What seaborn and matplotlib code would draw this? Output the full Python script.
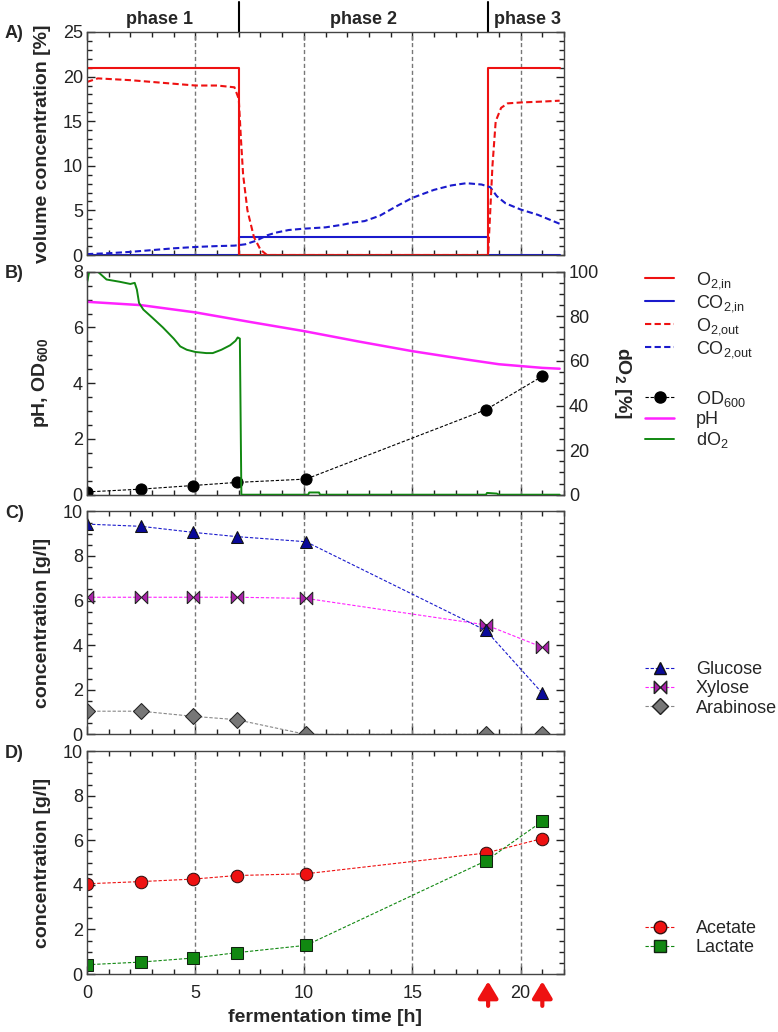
import matplotlib
matplotlib.use('Agg')
import seaborn as sns
import matplotlib.pyplot as plt
from matplotlib.lines import Line2D
from matplotlib.ticker import MultipleLocator

# ---- panel A: off-gas / inlet gas (volume %)
o2_in_t = [0, 7, 7, 18.5, 18.5, 21.8]
o2_in = [21, 21, 0, 0, 21, 21]
co2_in_t = [0, 7, 7, 18.5, 18.5, 21.8]
co2_in = [0, 0, 2, 2, 0, 0]
o2_out_t = [0, 0.5, 2, 4, 5, 6, 6.8, 7.0, 7.1, 7.2, 7.4, 7.7, 8.0, 8.3, 18.5,
            18.6, 18.7, 18.85, 19.1, 19.4, 20, 21, 21.8]
o2_out = [19.4, 19.8, 19.6, 19.2, 19.0, 19.0, 18.8, 17.5, 13, 9, 5, 2, 0.6, 0, 0,
          5, 10, 15, 16.5, 17.0, 17.1, 17.2, 17.3]
co2_out_t = [0, 1, 2, 3, 4, 5, 6, 6.8, 7.3, 7.8, 8.3, 8.7, 9.3, 10, 11, 11.8, 12.3,
             12.8, 13.5, 14.3, 15, 16, 16.8, 17.5, 18.2, 18.6, 18.9, 19.3, 20, 20.8, 21.8]
co2_out = [0.1, 0.2, 0.35, 0.55, 0.75, 0.9, 1.0, 1.05, 1.2, 1.6, 2.2, 2.5, 2.8, 2.95,
           3.1, 3.4, 3.65, 3.8, 4.4, 5.5, 6.4, 7.3, 7.8, 8.05, 7.9, 7.6, 6.6, 5.8,
           5.1, 4.5, 3.5]

# ---- panel B: OD600, pH, dO2
sample_t = [0, 2.5, 4.9, 6.9, 10.1, 18.4, 21.0]
od600 = [0.1, 0.2, 0.33, 0.44, 0.56, 3.05, 4.25]
ph_t = [0, 2.5, 5, 7.5, 10, 12.5, 15, 17.5, 19, 21, 21.8]
ph = [6.92, 6.8, 6.54, 6.2, 5.87, 5.5, 5.15, 4.85, 4.68, 4.55, 4.52]
do2_t = [0, 0.1, 0.5, 0.9, 1.5, 2.0, 2.2, 2.3, 2.4, 2.6, 3.0, 3.5, 4.0, 4.3, 4.6,
         5.0, 5.5, 5.8, 6.2, 6.6, 6.85, 6.95, 7.05, 7.12, 10.2, 10.25, 10.7, 10.75,
         18.4, 18.45, 18.9, 19.0, 21.8]
do2 = [95, 100, 100, 96.5, 95.5, 94.5, 95, 92, 86, 83, 79.5, 75, 70, 66.5, 65,
       64, 63.5, 63.5, 65, 67, 69, 70.5, 70, 0, 0, 1, 1, 0,
       0, 0.8, 0.5, 0, 0]

# ---- panel C: sugars (g/l)
glucose = [9.43, 9.33, 9.06, 8.87, 8.64, 4.66, 1.85]
xylose = [6.15, 6.15, 6.15, 6.15, 6.1, 4.91, 3.91]
arabinose = [1.04, 1.04, 0.81, 0.66, 0.0, 0.0, 0.0]

# ---- panel D: products (g/l)
acetate = [4.05, 4.15, 4.26, 4.42, 4.5, 5.43, 6.08]
lactate = [0.42, 0.54, 0.72, 0.96, 1.29, 5.08, 6.85]

phase_bounds = [7, 18.5]
phase_names = ['phase 1', 'phase 2', 'phase 3']
phase_centers = [3.35, 12.75, 20.3]
sample_lines = [5, 10, 15, 20]
harvest_t = [18.5, 21.0]

sns.set_style('ticks')
plt.rcParams['font.family'] = ['Liberation Sans', 'DejaVu Sans']
plt.rcParams['mathtext.fontset'] = 'custom'
plt.rcParams['mathtext.rm'] = 'Liberation Sans'
plt.rcParams['mathtext.bf'] = 'Liberation Sans:bold'

RED = '#ee1111'
BLUE = '#1a1acc'
MAG = '#ff22ff'
GREEN = '#118811'
DASH = (0, (3, 1.6))
bowtie = [(-1, -1), (-1, 1), (0, 0), (1, 1), (1, -1), (0, 0), (-1, -1)]

W, H = 778, 1032
fig = plt.figure(figsize=(W / 100, H / 100), dpi=100)
left, right = 87, 564
top0, ph_h, gap = 32, 223, 16.7
axes = []
for i in range(4):
    t = top0 + i * (ph_h + gap)
    axes.append(fig.add_axes([left / W, 1 - (t + ph_h) / H, (right - left) / W, ph_h / H]))
axA, axB, axC, axD = axes


def style(ax, ymax, ymaj, ymin, right_ticks=True):
    ax.set_xlim(0, 22)
    ax.set_ylim(0, ymax)
    ax.xaxis.set_major_locator(MultipleLocator(5))
    ax.xaxis.set_minor_locator(MultipleLocator(1))
    ax.yaxis.set_major_locator(MultipleLocator(ymaj))
    ax.yaxis.set_minor_locator(MultipleLocator(ymin))
    ax.tick_params(which='both', direction='in', top=True, right=right_ticks,
                   labelsize=13, colors='#222222', pad=3)
    ax.tick_params(axis='x', pad=8)
    ax.tick_params(which='major', length=6, width=1)
    ax.tick_params(which='minor', length=3.5, width=1)
    for s in ax.spines.values():
        s.set_color('#444444')
        s.set_linewidth(1)
    for x in sample_lines:
        ax.axvline(x, color='#777777', ls=(0, (3, 2)), lw=1, zorder=1)
    ax.set_xlabel('')


def legend(ax, handles, labels, y):
    ax.legend(handles, labels, loc='lower left', bbox_to_anchor=(1.17, y),
              frameon=False, fontsize=13, handlelength=1.6, handletextpad=1.2,
              labelspacing=0.12, borderpad=0, borderaxespad=0)


# ---- A
sns.lineplot(x=co2_in_t, y=co2_in, ax=axA, color=BLUE, lw=1.5, estimator=None, sort=False)
sns.lineplot(x=o2_in_t, y=o2_in, ax=axA, color=RED, lw=1.5, estimator=None, sort=False)
sns.lineplot(x=co2_out_t, y=co2_out, ax=axA, color=BLUE, lw=1.5, linestyle=DASH,
             estimator=None, sort=False)
sns.lineplot(x=o2_out_t, y=o2_out, ax=axA, color=RED, lw=1.5, linestyle=DASH,
             estimator=None, sort=False)
style(axA, 25, 5, 1)
axA.set_xticklabels([])
axA.set_ylabel('volume concentration [%]', fontsize=14, fontweight='bold')
hA = [Line2D([], [], color=RED, lw=1.5), Line2D([], [], color=BLUE, lw=1.5),
      Line2D([], [], color=RED, lw=1.5, ls=DASH), Line2D([], [], color=BLUE, lw=1.5, ls=DASH)]
legend(axA, hA, [r'O$_{2{,}\mathrm{in}}$', r'CO$_{2{,}\mathrm{in}}$',
                 r'O$_{2{,}\mathrm{out}}$', r'CO$_{2{,}\mathrm{out}}$'], -0.47)

for b in phase_bounds:
    axA.axvline(b, ymin=1, ymax=1 + 30 / ph_h, color='k', lw=1.5, clip_on=False)
for name, c in zip(phase_names, phase_centers):
    axA.text(c, 1 + 12 / ph_h, name, transform=axA.get_xaxis_transform(),
             ha='center', va='center', fontsize=13, fontweight='bold')

# ---- B
sns.lineplot(x=sample_t, y=od600, ax=axB, color='k', lw=0.8, linestyle=DASH,
             marker='o', markersize=8, markerfacecolor='k', markeredgecolor='k',
             estimator=None, sort=False)
sns.lineplot(x=ph_t, y=ph, ax=axB, color=MAG, lw=1.8, estimator=None, sort=False)
style(axB, 8, 2, 0.5, right_ticks=False)
axB.set_xticklabels([])
axB.set_ylabel(r'pH, OD$_\mathbf{600}$', fontsize=14, fontweight='bold')
axB2 = axB.twinx()
sns.lineplot(x=do2_t, y=do2, ax=axB2, color=GREEN, lw=1.4, estimator=None, sort=False)
axB2.set_ylim(0, 100)
axB2.set_xlim(0, 22)
axB2.yaxis.set_major_locator(MultipleLocator(20))
axB2.yaxis.set_minor_locator(MultipleLocator(5))
axB2.tick_params(which='both', direction='in', labelsize=13, colors='#222222')
axB2.tick_params(which='major', length=6, width=1)
axB2.tick_params(which='minor', length=3.5, width=1)
for s in axB2.spines.values():
    s.set_color('#444444')
axB2.set_ylabel(r'dO$_\mathbf{2}$ [%]', fontsize=14, fontweight='bold', rotation=270)
axB2.yaxis.set_label_coords(1.145, 0.5)
hB = [Line2D([], [], color='k', lw=0.8, ls=DASH, marker='o', ms=8),
      Line2D([], [], color=MAG, lw=1.8), Line2D([], [], color=GREEN, lw=1.4)]
legend(axB, hB, [r'OD$_{600}$', 'pH', r'dO$_2$'], 0.2)

# ---- C
sns.lineplot(x=sample_t, y=arabinose, ax=axC, color='#888888', lw=0.8, linestyle=DASH,
             marker='D', markersize=8, markerfacecolor='#777777', markeredgecolor='#222222',
             estimator=None, sort=False)
sns.lineplot(x=sample_t, y=xylose, ax=axC, color=MAG, lw=0.8, linestyle=DASH,
             marker=bowtie, markersize=9, markerfacecolor='#aa22aa', markeredgecolor='#222222',
             estimator=None, sort=False)
sns.lineplot(x=sample_t, y=glucose, ax=axC, color=BLUE, lw=0.8, linestyle=DASH,
             marker='^', markersize=9, markerfacecolor='#0a0a99', markeredgecolor='#111111',
             estimator=None, sort=False)
style(axC, 10, 2, 0.5)
axC.set_xticklabels([])
axC.set_ylabel('concentration [g/l]', fontsize=14, fontweight='bold')
hC = [Line2D([], [], color=BLUE, lw=0.8, ls=DASH, marker='^', ms=9, mfc='#0a0a99', mec='#111111'),
      Line2D([], [], color=MAG, lw=0.8, ls=DASH, marker=bowtie, ms=9, mfc='#aa22aa', mec='#222222'),
      Line2D([], [], color='#888888', lw=0.8, ls=DASH, marker='D', ms=8, mfc='#777777', mec='#222222')]
legend(axC, hC, ['Glucose', 'Xylose', 'Arabinose'], 0.08)

# ---- D
sns.lineplot(x=sample_t, y=acetate, ax=axD, color=RED, lw=0.8, linestyle=DASH,
             marker='o', markersize=9, markerfacecolor='#ee1111', markeredgecolor='#331111',
             estimator=None, sort=False)
sns.lineplot(x=sample_t, y=lactate, ax=axD, color=GREEN, lw=0.8, linestyle=DASH,
             marker='s', markersize=8, markerfacecolor='#118811', markeredgecolor='#112211',
             estimator=None, sort=False)
style(axD, 10, 2, 0.5)
axD.set_ylabel('concentration [g/l]', fontsize=14, fontweight='bold')
axD.set_xlabel('fermentation time [h]', fontsize=14, fontweight='bold', labelpad=5)
hD = [Line2D([], [], color=RED, lw=0.8, ls=DASH, marker='o', ms=9, mfc='#ee1111', mec='#331111'),
      Line2D([], [], color=GREEN, lw=0.8, ls=DASH, marker='s', ms=8, mfc='#118811', mec='#112211')]
legend(axD, hD, ['Acetate', 'Lactate'], 0.08)

for t in harvest_t:
    axD.annotate('', xy=(t, -0.02), xytext=(t, -0.155),
                 xycoords=('data', 'axes fraction'), textcoords=('data', 'axes fraction'),
                 arrowprops=dict(arrowstyle='-|>,head_width=0.3,head_length=0.5',
                                 mutation_scale=20, color='#ee1111', lw=3),
                 annotation_clip=False)

for ax in axes:
    ax.yaxis.set_label_coords(-0.075, 0.5)
for ax, lab in zip(axes, ['A)', 'B)', 'C)', 'D)']):
    ax.text(-0.172, 1 - 2 / ph_h, lab, transform=ax.transAxes, fontsize=13,
            fontweight='bold', ha='left', va='center')

fig.savefig('out.png', dpi=100)
